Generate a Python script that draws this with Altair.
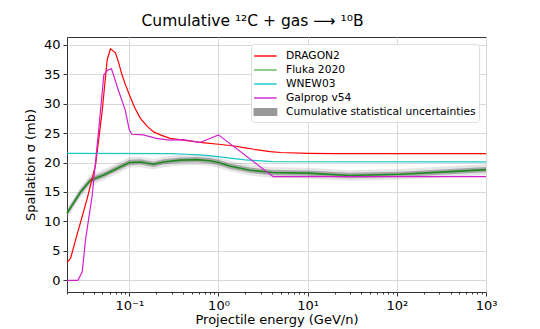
import altair as alt
import pandas as pd

# ---------------- data ----------------
dragon_E = [0.0200, 0.0220, 0.0251, 0.0284, 0.0337, 0.0418, 0.0495, 0.0564, 0.0614,
            0.0698, 0.0760, 0.0828, 0.0900, 0.100, 0.115, 0.133, 0.160, 0.187, 0.230,
            0.286, 0.400, 0.569, 0.700, 1.0, 1.5, 2.0, 2.5, 3.8, 5.0, 10.0, 20.0, 1000.0]
dragon_v = [3.0, 3.8, 7.0, 9.9, 13.9, 19.6, 28.6, 37.4, 39.3,
            38.6, 36.9, 34.9, 33.3, 31.5, 29.3, 27.5, 26.1, 25.2, 24.6,
            24.1, 23.8, 23.5, 23.35, 23.1, 22.8, 22.5, 22.25, 21.85, 21.7, 21.55, 21.5, 21.5]

galprop_E = [0.0200, 0.0265, 0.0296, 0.0324, 0.0384, 0.0455, 0.0518, 0.0575, 0.0631,
             0.076, 0.090, 0.100, 0.107, 0.143, 0.202, 0.28, 0.40, 0.62, 1.0, 4.1, 1000.0]
galprop_v = [0.0, 0.0, 1.4, 7.1, 14.5, 25.8, 34.9, 35.7, 35.9,
             32.1, 28.9, 25.5, 24.8, 24.7, 24.1, 23.8, 23.9, 23.4, 24.7, 17.6, 17.6]

wnew_E = [0.0200, 0.30, 0.44, 0.62, 1.0, 1.34, 2.0, 4.0, 1000.0]
wnew_v = [21.55, 21.5, 21.4, 21.3, 21.0, 20.75, 20.45, 20.15, 20.1]

fluka_E = [0.0200, 0.0284, 0.0367, 0.0518, 0.0728, 0.100, 0.133, 0.187, 0.241, 0.371,
           0.569, 0.80, 1.0, 1.34, 2.26, 4.0, 10.0, 29.5, 107.0, 400.0, 1000.0]
fluka_v = [11.4, 15.0, 17.0, 17.9, 19.0, 20.0, 20.1, 19.7, 20.1, 20.4,
           20.5, 20.3, 20.0, 19.4, 18.7, 18.3, 18.2, 17.8, 18.0, 18.45, 18.8]
fluka_err = 0.45

series_names = ["DRAGON2", "Fluka 2020", "WNEW03", "Galprop v54",
                "Cumulative statistical uncertainties"]
series_colors = ["#ff0000", "#5cb85c", "#17c7c7", "#d21fd2", "#999999"]

x_major = [0.1, 1, 10, 100, 1000]
x_minor = [m * 10.0 ** d for d in range(-2, 3) for m in range(2, 10)
           if 0.02 <= m * 10.0 ** d <= 1000]
y_ticks = [0, 5, 10, 15, 20, 25, 30, 35, 40]

# ---------------- tables ----------------
lines = pd.concat([
    pd.DataFrame({"E": dragon_E, "v": dragon_v, "s": "DRAGON2"}),
    pd.DataFrame({"E": wnew_E, "v": wnew_v, "s": "WNEW03"}),
    pd.DataFrame({"E": galprop_E, "v": galprop_v, "s": "Galprop v54"}),
], ignore_index=True)
lines["o"] = lines.groupby("s").cumcount()

fl = pd.DataFrame({"E": fluka_E, "v": fluka_v})
fl["lo"] = fl["v"] - fluka_err
fl["hi"] = fl["v"] + fluka_err
fl["lo2"] = fl["v"] - 2 * fluka_err
fl["hi2"] = fl["v"] + 2 * fluka_err

FONT = "DejaVu Sans"
xscale = alt.Scale(type="log", domain=[0.02, 1000], nice=False)
yscale = alt.Scale(domain=[-1.97, 41.3], nice=False, zero=False)

label_expr = ("datum.value == 0.1 ? '10⁻¹' : datum.value == 1 ? '10⁰' : "
              "datum.value == 10 ? '10¹' : datum.value == 100 ? '10²' : '10³'")

x_main = alt.X("E:Q", scale=xscale, title="Projectile energy (GeV/n)",
               axis=alt.Axis(values=x_major, labelExpr=label_expr, grid=True,
                             gridColor="#d9d9d9", tickSize=4, tickColor="#333",
                             domain=False, labelFontSize=13, labelFont=FONT,
                             labelColor="black", titleFont=FONT, titleFontSize=13,
                             titleFontWeight="normal", titleColor="black",
                             labelPadding=3, titlePadding=1, labelFlush=False,
                             orient="bottom"))
y_main = alt.Y("v:Q", scale=yscale, title="Spallation σ (mb)",
               axis=alt.Axis(values=y_ticks, grid=True, gridColor="#d9d9d9",
                             tickSize=4, tickColor="#333", domain=False,
                             labelFontSize=13, labelFont=FONT, labelColor="black",
                             titleFont=FONT, titleFontSize=13, titleFontWeight="normal",
                             titleColor="black", labelPadding=3, titlePadding=6,
                             orient="left"))
x_plain = alt.X("E:Q", scale=xscale, axis=None)

band_outer = alt.Chart(fl).mark_area(color="#888888", opacity=0.22).encode(
    x=x_plain, y=alt.Y("lo2:Q", scale=yscale, axis=None), y2="hi2:Q")
band_inner = alt.Chart(fl).mark_area(color="#777777", opacity=0.55).encode(
    x=x_plain, y=alt.Y("lo:Q", scale=yscale, axis=None), y2="hi:Q")

fluka_line = alt.Chart(fl).mark_line(color="#1f8a1f", strokeWidth=1.6).encode(
    x=x_plain, y=alt.Y("v:Q", scale=yscale, axis=None), order="E:Q")

minor = alt.Chart(pd.DataFrame({"E": x_minor, "v": [0.0] * len(x_minor)})).mark_point(
    opacity=0).encode(
    x=alt.X("E:Q", scale=xscale, title=None,
            axis=alt.Axis(values=x_minor, labels=False, grid=False, tickSize=2,
                          tickColor="#333", domain=False, title=None, orient="bottom")),
    y=alt.Y("v:Q", scale=yscale, axis=None))

CUM = "Cumulative statistical uncertainties"
sym_expr = ("datum.label == '" + CUM + "' ? 'M-1.1,-0.42H1.7V0.42H-1.1Z' : 'M-1.1,0H1.7'")
fill_expr = "datum.label == '" + CUM + "' ? '#999999' : 'transparent'"

main_lines = alt.Chart(lines).mark_line(strokeWidth=1.2).encode(
    x=x_main,
    y=y_main,
    order="o:Q",
    color=alt.Color("s:N",
                    scale=alt.Scale(domain=series_names, range=series_colors),
                    legend=alt.Legend(
                        title=None, orient="top-right", offset=7,
                        labelFont=FONT, labelFontSize=10.7, labelColor="black",
                        labelLimit=400, symbolSize=256, symbolStrokeWidth=1.4,
                        symbolType=alt.ExprRef(expr=sym_expr),
                        symbolFillColor=alt.ExprRef(expr=fill_expr),
                        rowPadding=0, labelOffset=14, padding=3,
                        strokeColor="#dddddd", fillColor="white",
                        cornerRadius=3)),
)

chart = alt.layer(band_outer, band_inner, fluka_line, main_lines, minor).resolve_axis(
    x="independent", y="independent"
).properties(
    width=419, height=255,
    padding={"left": 59, "top": 29, "right": 40, "bottom": 36},
    autosize=alt.AutoSizeParams(type="none"),
    title=alt.TitleParams("Cumulative ¹²C + gas ⟶ ¹⁰B", font=FONT, fontSize=15.5,
                          fontWeight="normal", color="black", offset=8, dx=-24),
).configure_view(stroke="#333333", strokeWidth=1)

chart.save("out.html", embed_options={"renderer": "svg", "actions": False})
